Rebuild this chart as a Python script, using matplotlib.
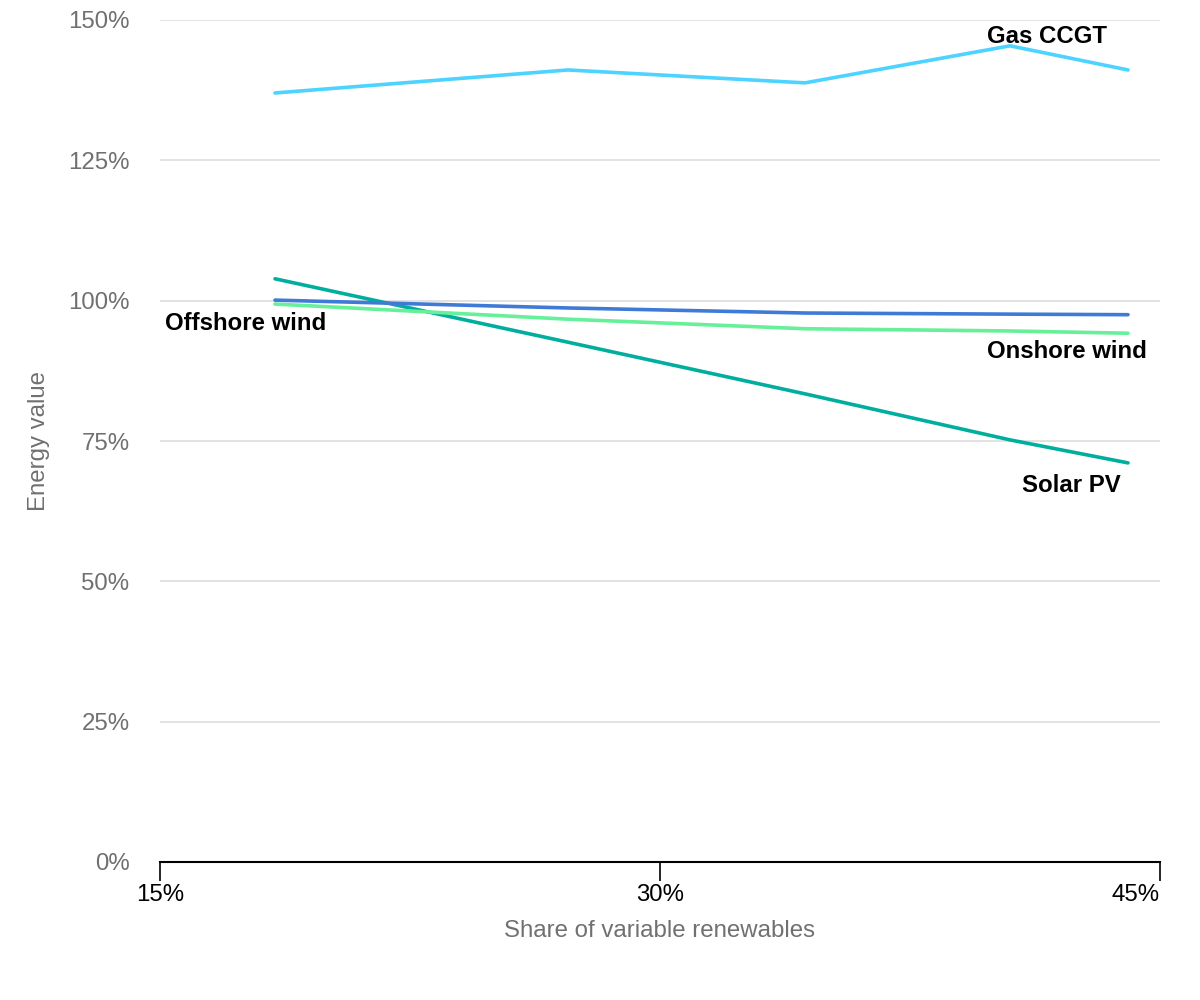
import matplotlib
matplotlib.use("Agg")
import matplotlib.pyplot as plt
from matplotlib.ticker import FuncFormatter

plt.rcParams['font.family'] = ['Liberation Sans', 'DejaVu Sans']

share = [18.45, 27.24, 34.35, 40.5, 44.04]
gas_ccgt = [137.0, 141.1, 138.8, 145.4, 141.1]
solar_pv = [103.9, 92.6, 83.4, 75.2, 71.1]
offshore_wind = [100.1, 98.7, 97.8, 97.6, 97.5]
onshore_wind = [99.4, 96.7, 95.0, 94.6, 94.2]

x_ticks = [15, 30, 45]
y_ticks = [0, 25, 50, 75, 100, 125, 150]

FS = 17.3

fig = plt.figure(figsize=(12, 10), dpi=100)
ax = fig.add_axes([160/1200, 1-862/1000, 1000/1200, 842/1000])

ax.plot(share, gas_ccgt, color='#4CD3FF', lw=2.6, solid_capstyle='round', zorder=3)
ax.plot(share, solar_pv, color='#00AE9E', lw=2.6, solid_capstyle='round', zorder=3)
ax.plot(share, onshore_wind, color='#66F09A', lw=2.6, solid_capstyle='round', zorder=3)
ax.plot(share, offshore_wind, color='#3F7BD6', lw=2.6, solid_capstyle='round', zorder=4)

lab = dict(fontsize=FS, fontweight='bold', color='black', va='center', ha='left', zorder=5)
ax.text(39.81, 147.1, 'Gas CCGT', **lab)
ax.text(15.15, 96.0, 'Offshore wind', **lab)
ax.text(39.81, 91.0, 'Onshore wind', **lab)
ax.text(40.86, 67.0, 'Solar PV', **lab)

ax.set_xlim(15, 45)
ax.set_ylim(0, 150)
ax.set_xticks(x_ticks)
ax.set_yticks(y_ticks)
ax.xaxis.set_major_formatter(FuncFormatter(lambda v, p: f"{v:.0f}%"))
ax.yaxis.set_major_formatter(FuncFormatter(lambda v, p: f"{v:.0f}%"))

for s in ['top', 'right', 'left']:
    ax.spines[s].set_visible(False)
ax.spines['bottom'].set_color('black')
ax.spines['bottom'].set_linewidth(1.5)

ax.grid(axis='y', color='#DDDDDD', lw=1.2)
ax.set_axisbelow(True)
ax.tick_params(axis='y', length=0, pad=22, labelsize=FS, labelcolor='#707070')
ax.tick_params(axis='x', length=14, width=1.2, color='black', labelsize=FS, labelcolor='black', pad=2)

xt = ax.get_xticklabels()
xt[-1].set_ha('right')
xt[-1].set_x(45)
fig.canvas.draw()
for t in ax.get_xticklabels():
    if t.get_text() == '45%':
        t.set_ha('right')
        t.set_position((45.05, t.get_position()[1]))

ax.set_xlabel('Share of variable renewables', fontsize=FS, color='#707070', labelpad=10)
ax.set_ylabel('Energy value', fontsize=FS, color='#707070', labelpad=13)

fig.savefig('out.png', dpi=100)
